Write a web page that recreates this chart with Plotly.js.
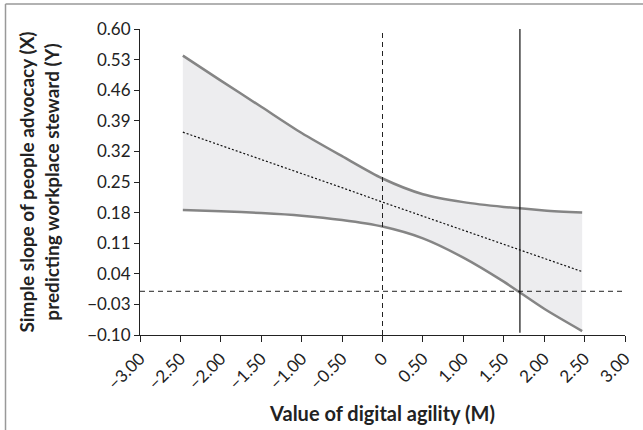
<!DOCTYPE html>
<html>
<head>
<meta charset="utf-8">
<script src="https://cdn.plot.ly/plotly-3.0.1.min.js"></script>
<style>html,body{margin:0;padding:0;background:#fff;}#chart{width:643px;height:430px;}</style>
</head>
<body>
<div id="chart"></div>
<script>
// Values of digital agility (M)
const moderator = [-2.47, -2.0, -1.5, -1.0, -0.5, 0.0, 0.5, 1.0, 1.5, 2.0, 2.47];
// Simple slope estimate (dotted line)
const slopeEstimate = [0.364, 0.334, 0.302, 0.269, 0.237, 0.204, 0.172, 0.140, 0.107, 0.075, 0.045];
// Upper confidence bound
const upperBound = [0.539, 0.482, 0.422, 0.362, 0.309, 0.258, 0.222, 0.204, 0.193, 0.185, 0.180];
// Lower confidence bound
const lowerBound = [0.186, 0.183, 0.179, 0.173, 0.163, 0.148, 0.121, 0.077, 0.022, -0.040, -0.091];
// Reference lines
const meanModerator = 0;          // vertical dashed line
const zeroSlope = 0;              // horizontal dashed line
const jnPoint = 1.70;             // Johnson–Neyman point (solid vertical line)
const jnLineBottom = -0.095;
// Tick labels
const yTickVals = [-0.10, -0.03, 0.04, 0.11, 0.18, 0.25, 0.32, 0.39, 0.46, 0.53, 0.60];
const yTickText = ["\u22120.10", "\u22120.03", "0.04", "0.11", "0.18", "0.25", "0.32", "0.39", "0.46", "0.53", "0.60"];
const xTickVals = [-3, -2.5, -2, -1.5, -1, -0.5, 0, 0.5, 1, 1.5, 2, 2.5, 3];
const xTickText = ["\u22123.00", "\u22122.50", "\u22122.00", "\u22121.50", "\u22121.00", "\u22120.50", "0", "0.50", "1.00", "1.50", "2.00", "2.50", "3.00"];

const FONT = "Lato, 'Open Sans', sans-serif";
const grey = "#858585";

const traces = [
  {x: moderator, y: lowerBound, type: "scatter", mode: "lines",
   line: {color: grey, width: 2.5, shape: "spline", smoothing: 0.8}, hoverinfo: "skip", showlegend: false},
  {x: moderator, y: upperBound, type: "scatter", mode: "lines", fill: "tonexty", fillcolor: "#ededef",
   line: {color: grey, width: 2.5, shape: "spline", smoothing: 0.8}, hoverinfo: "skip", showlegend: false},
  {x: moderator, y: slopeEstimate, type: "scatter", mode: "lines",
   line: {color: "#111", width: 1.2, dash: "2px,2px"}, hoverinfo: "skip", showlegend: false}
];

const layout = {
  width: 643, height: 430,
  margin: {l: 140, r: 18, t: 29, b: 95},
  paper_bgcolor: "#fff", plot_bgcolor: "#fff",
  font: {family: FONT, size: 17, color: "#222"},
  showlegend: false,
  xaxis: {
    range: [-3, 3], tickvals: xTickVals, ticktext: xTickText, tickangle: -45,
    showgrid: false, zeroline: false, showline: true, linecolor: "#222", linewidth: 1,
    ticks: "outside", ticklen: 6, tickcolor: "#222", tickfont: {family: FONT, size: 17, color: "#222"},
    title: {text: "<b>Value of digital agility (M)</b>", font: {family: FONT, size: 20, color: "#222"}, standoff: 14}
  },
  yaxis: {
    range: [-0.10, 0.60], tickvals: yTickVals, ticktext: yTickText,
    showgrid: false, zeroline: false, showline: true, linecolor: "#222", linewidth: 1,
    ticks: "outside", ticklen: 5, tickcolor: "#222", tickfont: {family: FONT, size: 17, color: "#222"},
    title: {text: "<b>Simple slope of people advocacy (X)<br>predicting workplace steward (Y)</b>", font: {family: FONT, size: 19, color: "#222"}, standoff: 22}
  },
  shapes: [
    {type: "line", xref: "x", yref: "y", x0: meanModerator, x1: meanModerator, y0: -0.10, y1: 0.60,
     line: {color: "#222", width: 1, dash: "5px,4px"}},
    {type: "line", xref: "x", yref: "y", x0: -3, x1: 3, y0: zeroSlope, y1: zeroSlope,
     line: {color: "#222", width: 1, dash: "5px,4px"}},
    {type: "line", xref: "x", yref: "y", x0: jnPoint, x1: jnPoint, y0: jnLineBottom, y1: 0.60,
     line: {color: "#111", width: 1.2}},
    {type: "line", xref: "paper", yref: "paper", x0: -0.2773, x1: 1.04, y0: 1.0817, y1: 1.0817,
     line: {color: "#999", width: 1.5}},
    {type: "line", xref: "paper", yref: "paper", x0: -0.2773, x1: -0.2773, y0: 1.0817, y1: -0.32,
     line: {color: "#999", width: 1.5}}
  ]
};

Plotly.newPlot("chart", traces, layout, {displayModeBar: false, staticPlot: true});
</script>
</body>
</html>
